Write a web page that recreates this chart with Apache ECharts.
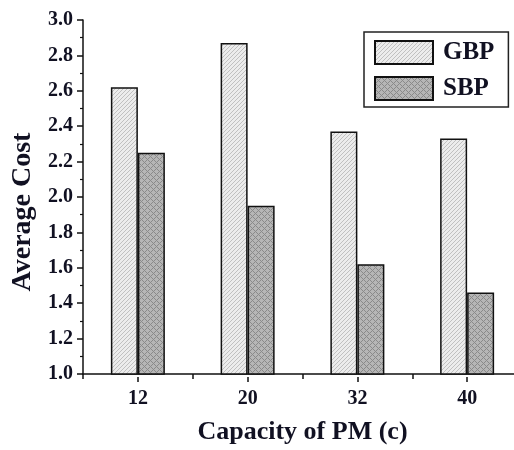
<!DOCTYPE html>
<html>
<head>
<meta charset="utf-8">
<script src="https://cdn.jsdelivr.net/npm/echarts@6/dist/echarts.min.js"></script>
<style>html,body{margin:0;padding:0;background:#fff;overflow:hidden;width:514px;height:450px}#c{width:522px;height:450px}</style>
</head>
<body>
<div id="c"></div>
<script>
const categories = ['12', '20', '32', '40'];
const gbpValues = [2.62, 2.87, 2.37, 2.33];
const sbpValues = [2.25, 1.95, 1.62, 1.46];
const yTicks = { min: 1.0, max: 3.0, interval: 0.2 };

function makePattern(size, base, dark, test) {
  const cv = document.createElement('canvas');
  cv.width = size; cv.height = size;
  const ctx = cv.getContext('2d');
  const img = ctx.createImageData(size, size);
  for (let y = 0; y < size; y++) {
    for (let x = 0; x < size; x++) {
      const c = test(x, y) ? dark : base;
      const i = (y * size + x) * 4;
      img.data[i] = c[0]; img.data[i + 1] = c[1]; img.data[i + 2] = c[2]; img.data[i + 3] = 255;
    }
  }
  ctx.putImageData(img, 0, 0);
  return { image: cv, repeat: 'repeat' };
}
const gbpPattern = makePattern(4, [236, 236, 236], [192, 192, 192], (x, y) => (x + y) % 4 === 3);
const sbpPattern = makePattern(6, [182, 182, 182], [138, 138, 138], (x, y) => (x + y) % 6 === 0 || (x - y + 6) % 6 === 0);

const font = 'Liberation Serif';
const txt = '#111122';
const chart = echarts.init(document.getElementById('c'), null, { renderer: 'canvas' });
const gridRect = { left: 83, top: 20, right: 0, bottom: 73 };
chart.setOption({
  animation: false,
  backgroundColor: '#fff',
  grid: [Object.assign({}, gridRect), Object.assign({}, gridRect)],
  legend: {
    orient: 'vertical',
    left: 364, top: 32,
    padding: [8, 14, 6, 10],
    itemWidth: 58, itemHeight: 23, itemGap: 11,
    borderColor: '#222', borderWidth: 1.5,
    icon: 'rect',
    textStyle: { fontFamily: font, fontWeight: 'bold', fontSize: 25, lineHeight: 23, color: txt, padding: [0, 0, 0, 5] },
    data: ['GBP', 'SBP']
  },
  xAxis: [{
    type: 'category', gridIndex: 0, data: categories,
    name: 'Capacity of PM (c)', nameLocation: 'middle', nameGap: 45,
    nameTextStyle: { fontFamily: font, fontWeight: 'bold', fontSize: 26, color: txt },
    axisLine: { lineStyle: { color: '#111', width: 1.5 } },
    axisTick: { show: true, length: 5, inside: false, lineStyle: { color: '#111', width: 1.5 } },
    axisLabel: { fontFamily: font, fontWeight: 'bold', fontSize: 20, color: txt, margin: 15 },
    splitLine: { show: false }
  }, {
    type: 'category', gridIndex: 1, data: categories,
    axisLine: { show: false },
    axisTick: { show: true, alignWithLabel: true, length: 5, lineStyle: { color: '#111', width: 1.5 } },
    axisLabel: { show: false },
    splitLine: { show: false }
  }],
  yAxis: [{
    type: 'value', gridIndex: 0, min: yTicks.min, max: yTicks.max, interval: yTicks.interval,
    name: 'Average Cost', nameLocation: 'middle', nameGap: 46, nameRotate: 90,
    nameTextStyle: { fontFamily: font, fontWeight: 'bold', fontSize: 28, color: txt, padding: [0, 30, 0, 0] },
    axisLine: { show: true, lineStyle: { color: '#111', width: 1.5 } },
    axisTick: { show: true, length: 6, lineStyle: { color: '#111', width: 1.5 } },
    minorTick: { show: true, splitNumber: 2, length: 3, lineStyle: { color: '#111', width: 1.2 } },
    axisLabel: { fontFamily: font, fontWeight: 'bold', fontSize: 20, color: txt, margin: 10,
      formatter: v => v.toFixed(1) },
    splitLine: { show: false }
  }, {
    type: 'value', gridIndex: 1, min: yTicks.min, max: yTicks.max, show: false
  }],
  series: [{
    name: 'GBP', type: 'bar', xAxisIndex: 0, yAxisIndex: 0,
    data: gbpValues, barWidth: 27, barGap: '0%',
    itemStyle: { color: gbpPattern, borderColor: '#111', borderWidth: 1.5 }
  }, {
    name: 'SBP', type: 'bar', xAxisIndex: 0, yAxisIndex: 0,
    data: sbpValues, barWidth: 27, barGap: '0%',
    itemStyle: { color: sbpPattern, borderColor: '#111', borderWidth: 1.5 }
  }]
});
</script>
</body>
</html>
